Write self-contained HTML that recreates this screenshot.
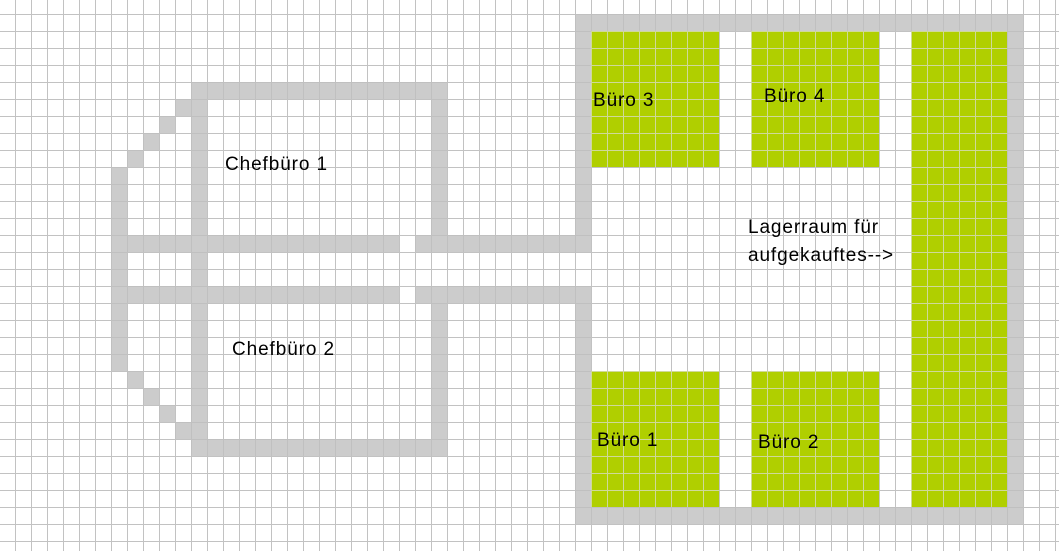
<!DOCTYPE html>
<html><head><meta charset="utf-8"><style>
html,body{margin:0;padding:0;background:#fff;}
body{width:1059px;height:551px;position:relative;overflow:hidden;}
#grid{position:absolute;left:0;top:0;width:1059px;height:551px;
background-image:linear-gradient(to right,#c2c2c2 0,#c2c2c2 1px,transparent 1px),linear-gradient(to bottom,#c2c2c2 0,#c2c2c2 1px,transparent 1px);
background-size:16px 17px,16px 17px;background-position:15px 0,0 14px;}
.g,.v{position:absolute;background-size:16px 17px,16px 17px;background-position:0 0,0 0;}
.g{background-color:#cccccc;background-image:linear-gradient(to right,#c0c0c0 0,#c0c0c0 1px,transparent 1px),linear-gradient(to bottom,#c0c0c0 0,#c0c0c0 1px,transparent 1px);}
.v{background-color:#b0cf00;background-image:linear-gradient(to right,#cfd99a 0,#cfd99a 1px,transparent 1px),linear-gradient(to bottom,#cfd99a 0,#cfd99a 1px,transparent 1px);}
.t{position:absolute;font-family:"Liberation Sans",sans-serif;font-size:19px;letter-spacing:0.9px;color:#000;line-height:28px;white-space:nowrap;}
</style></head><body>
<div id="grid"></div>
<div class="g" style="left:575px;top:14px;width:448px;height:17px"></div>
<div class="g" style="left:1007px;top:14px;width:16px;height:510px"></div>
<div class="g" style="left:575px;top:507px;width:448px;height:17px"></div>
<div class="g" style="left:575px;top:14px;width:16px;height:238px"></div>
<div class="g" style="left:575px;top:286px;width:16px;height:238px"></div>
<div class="g" style="left:111px;top:235px;width:288px;height:17px"></div>
<div class="g" style="left:415px;top:235px;width:176px;height:17px"></div>
<div class="g" style="left:111px;top:286px;width:288px;height:17px"></div>
<div class="g" style="left:415px;top:286px;width:176px;height:17px"></div>
<div class="g" style="left:191px;top:82px;width:256px;height:17px"></div>
<div class="g" style="left:191px;top:439px;width:256px;height:17px"></div>
<div class="g" style="left:191px;top:82px;width:16px;height:374px"></div>
<div class="g" style="left:431px;top:82px;width:16px;height:170px"></div>
<div class="g" style="left:431px;top:286px;width:16px;height:170px"></div>
<div class="g" style="left:111px;top:167px;width:16px;height:204px"></div>
<div class="g" style="left:175px;top:99px;width:16px;height:17px"></div>
<div class="g" style="left:159px;top:116px;width:16px;height:17px"></div>
<div class="g" style="left:143px;top:133px;width:16px;height:17px"></div>
<div class="g" style="left:127px;top:150px;width:16px;height:17px"></div>
<div class="g" style="left:127px;top:371px;width:16px;height:17px"></div>
<div class="g" style="left:143px;top:388px;width:16px;height:17px"></div>
<div class="g" style="left:159px;top:405px;width:16px;height:17px"></div>
<div class="g" style="left:175px;top:422px;width:16px;height:17px"></div>
<div class="v" style="left:591px;top:31px;width:128px;height:136px"></div>
<div class="v" style="left:751px;top:31px;width:128px;height:136px"></div>
<div class="v" style="left:591px;top:371px;width:128px;height:136px"></div>
<div class="v" style="left:751px;top:371px;width:128px;height:136px"></div>
<div class="v" style="left:911px;top:31px;width:96px;height:476px"></div>
<div class="t" style="left:225px;top:151px">Chefbüro 1</div>
<div class="t" style="left:232px;top:336px">Chefbüro 2</div>
<div class="t" style="left:593px;top:87px">Büro 3</div>
<div class="t" style="left:764px;top:83px">Büro 4</div>
<div class="t" style="left:597px;top:427px">Büro 1</div>
<div class="t" style="left:758px;top:429px">Büro 2</div>
<div class="t" style="left:748px;top:214px">Lagerraum für</div>
<div class="t" style="left:748px;top:242px">aufgekauftes--&gt;</div>
</body></html>
